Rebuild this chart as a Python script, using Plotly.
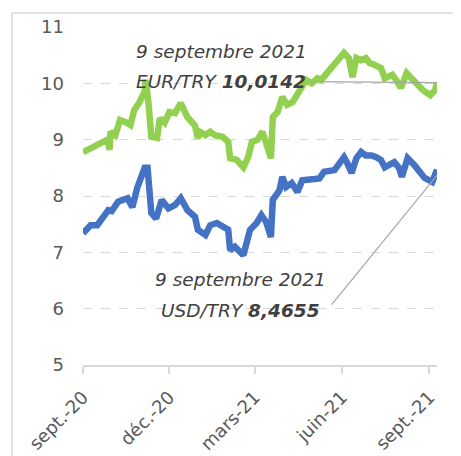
import plotly.graph_objects as go

# ---- data ----
usd_dates = ["2020-09-01","2020-09-09","2020-09-16","2020-09-24","2020-09-29","2020-09-30",
             "2020-10-08","2020-10-18","2020-10-23","2020-10-28","2020-11-03","2020-11-05",
             "2020-11-08","2020-11-09","2020-11-12","2020-11-17","2020-11-23","2020-11-30",
             "2020-12-07","2020-12-13","2020-12-20","2020-12-28","2020-12-31","2021-01-08",
             "2021-01-13","2021-01-20","2021-01-27","2021-02-01","2021-02-03","2021-02-08",
             "2021-02-17","2021-02-22","2021-02-24","2021-03-03","2021-03-08","2021-03-13",
             "2021-03-18","2021-03-20","2021-03-27","2021-03-30","2021-04-03","2021-04-09",
             "2021-04-15","2021-04-20","2021-04-28","2021-05-03","2021-05-08","2021-05-13",
             "2021-05-24","2021-05-29","2021-06-03","2021-06-06","2021-06-11","2021-06-16",
             "2021-06-21","2021-06-26","2021-07-02","2021-07-07","2021-07-12","2021-07-16",
             "2021-07-21","2021-07-26","2021-07-31","2021-08-03","2021-08-09","2021-08-16",
             "2021-08-27","2021-09-04","2021-09-09"]
usd_values = [7.34, 7.48, 7.48, 7.66, 7.78, 7.70,
              7.90, 7.96, 7.80, 8.14, 8.41, 8.50,
              8.50, 8.20, 7.70, 7.60, 7.93, 7.78,
              7.84, 7.96, 7.75, 7.63, 7.40, 7.31,
              7.48, 7.52, 7.45, 7.40, 7.04, 7.10,
              6.95, 7.22, 7.40, 7.52, 7.66, 7.54,
              7.27, 7.93, 8.10, 8.34, 8.16, 8.23,
              8.07, 8.28, 8.31, 8.30, 8.31, 8.43,
              8.46, 8.58, 8.69, 8.60, 8.41, 8.67,
              8.78, 8.72, 8.72, 8.69, 8.64, 8.51,
              8.55, 8.60, 8.50, 8.34, 8.67, 8.55,
              8.32, 8.25, 8.4655]

eur_dates = ["2020-09-01","2020-09-11","2020-09-22","2020-09-27","2020-09-29","2020-09-30",
             "2020-10-05","2020-10-10","2020-10-16","2020-10-21","2020-10-25","2020-10-30",
             "2020-11-05","2020-11-06","2020-11-09","2020-11-12","2020-11-18","2020-11-21",
             "2020-11-26","2020-12-01","2020-12-07","2020-12-13","2020-12-20","2020-12-28",
             "2020-12-31","2021-01-02","2021-01-08","2021-01-13","2021-01-18","2021-01-26",
             "2021-02-01","2021-02-03","2021-02-10","2021-02-17","2021-02-22","2021-02-26",
             "2021-03-04","2021-03-09","2021-03-13","2021-03-18","2021-03-20","2021-03-25",
             "2021-03-30","2021-04-04","2021-04-10","2021-04-15","2021-04-19","2021-04-24",
             "2021-04-30","2021-05-06","2021-05-10","2021-05-21","2021-05-29","2021-06-03",
             "2021-06-08","2021-06-12","2021-06-16","2021-06-21","2021-06-26","2021-06-30",
             "2021-07-05","2021-07-12","2021-07-16","2021-07-24","2021-07-28","2021-08-02",
             "2021-08-08","2021-08-16","2021-08-25","2021-09-02","2021-09-07","2021-09-09"]
eur_values = [8.78, 8.87, 8.96, 9.00, 8.82, 9.14,
              9.08, 9.35, 9.31, 9.26, 9.53, 9.65,
              9.85, 10.06, 9.65, 9.05, 9.03, 9.38,
              9.30, 9.49, 9.47, 9.65, 9.40, 9.25,
              9.03, 9.14, 9.08, 9.14, 9.08, 9.05,
              8.96, 8.67, 8.64, 8.51, 8.69, 8.96,
              9.00, 9.14, 8.94, 8.67, 9.40, 9.49,
              9.76, 9.62, 9.67, 9.83, 9.94, 10.06,
              10.00, 10.09, 10.06, 10.27, 10.41, 10.54,
              10.45, 10.11, 10.45, 10.41, 10.45, 10.36,
              10.33, 10.27, 10.09, 10.15, 10.06, 9.92,
              10.18, 10.02, 9.88, 9.79, 9.88, 10.0142]

tick_dates = ["2020-09-01", "2020-12-01", "2021-03-01", "2021-06-01", "2021-09-01"]
tick_labels = ["sept.-20", "déc.-20", "mars-21", "juin-21", "sept.-21"]
y_ticks = [5, 6, 7, 8, 9, 10, 11]

label_date = "9 septembre 2021"
eur_last = eur_values[-1]
usd_last = usd_values[-1]

FONT = "DejaVu Sans"
GRAY = "#595959"
GRID = "#d9d9d9"

fig = go.Figure()
fig.add_trace(go.Scatter(x=eur_dates, y=eur_values, mode="lines", name="EUR/TRY",
                         line=dict(color="#92D050", width=6.5), cliponaxis=False))
fig.add_trace(go.Scatter(x=usd_dates, y=usd_values, mode="lines", name="USD/TRY",
                         line=dict(color="#4472C4", width=6.5), cliponaxis=False))

def fmt(v):
    return f"{v:.4f}".replace(".", ",")

# leader lines
fig.add_shape(type="line", xref="x", yref="y", x0="2021-04-30", y0=10.03,
              x1=eur_dates[-1], y1=eur_last, line=dict(color="#a6a6a6", width=1.2), layer="above")
fig.add_shape(type="line", xref="x", yref="y", x0="2021-05-21", y0=6.07,
              x1=usd_dates[-1], y1=usd_last - 0.1, line=dict(color="#a6a6a6", width=1.2), layer="above")

ann_font = dict(family=FONT, size=18.5, color="#404040")
fig.add_annotation(xref="paper", yref="y", x=0.39, y=10.56, text=f"<i>{label_date}</i>",
                   showarrow=False, font=ann_font, xanchor="center", yanchor="middle")
fig.add_annotation(xref="paper", yref="y", x=0.39, y=10.04,
                   text=f"<i>EUR/TRY <b>{fmt(eur_last)}</b></i>",
                   showarrow=False, font=ann_font, xanchor="center", yanchor="middle")
fig.add_annotation(xref="paper", yref="y", x=0.446, y=6.51, text=f"<i>{label_date}</i>",
                   showarrow=False, font=ann_font, xanchor="center", yanchor="middle")
fig.add_annotation(xref="paper", yref="y", x=0.446, y=5.96,
                   text=f"<i>USD/TRY <b>{fmt(usd_last)}</b></i>",
                   showarrow=False, font=ann_font, xanchor="center", yanchor="middle")

# outer frame
fig.add_shape(type="rect", xref="paper", yref="paper", x0=-0.2006, y0=-0.4, x1=1.3, y1=1.0414,
              line=dict(color=GRID, width=1.5), fillcolor="rgba(0,0,0,0)", layer="below")

# the page body adds an 8px offset, so the figure is 8px smaller and shifted
fig.update_layout(
    width=453, height=448,
    margin=dict(l=75, r=24, t=19, b=91, autoexpand=False),
    paper_bgcolor="white", plot_bgcolor="white",
    showlegend=False,
    font=dict(family=FONT, color=GRAY),
)
fig.update_xaxes(
    type="date", range=["2020-09-01", "2021-09-09"], automargin=False,
    tickvals=tick_dates, ticktext=tick_labels, tickangle=-45,
    tickfont=dict(family=FONT, size=18, color=GRAY),
    showgrid=False, showline=True, linecolor=GRID, linewidth=1.5,
    ticks="outside", ticklen=7, tickcolor=GRID, tickwidth=1.5,
    zeroline=False, ticklabelstandoff=6,
)
fig.update_yaxes(
    range=[5, 11], tickvals=y_ticks, automargin=False,
    tickfont=dict(family=FONT, size=18, color=GRAY),
    showgrid=True, gridcolor=GRID, gridwidth=1.3, griddash="dash",
    showline=False, zeroline=False, ticks="", ticklabelstandoff=18,
)

fig.write_html("out.html")
